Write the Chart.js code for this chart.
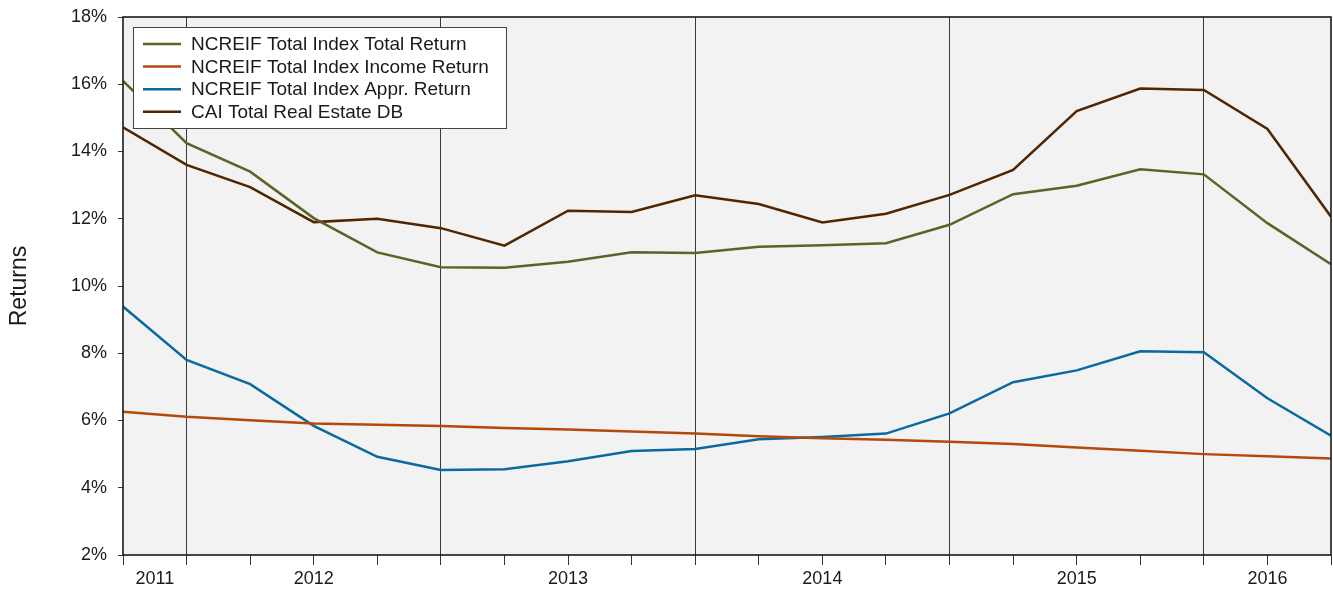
<!DOCTYPE html>
<html>
<head>
<meta charset="utf-8">
<script src="https://cdn.jsdelivr.net/npm/chart.js@4.4.1/dist/chart.umd.min.js"></script>
<style>
  html, body { margin: 0; padding: 0; background: #ffffff; }
  canvas { display: block; }
</style>
</head>
<body>
<canvas id="c" width="1333" height="589"></canvas>
<script>
// ---- data ----
const quarters = [
  '2011 Q1','2011 Q2','2011 Q3','2011 Q4',
  '2012 Q1','2012 Q2','2012 Q3','2012 Q4',
  '2013 Q1','2013 Q2','2013 Q3','2013 Q4',
  '2014 Q1','2014 Q2','2014 Q3','2014 Q4',
  '2015 Q1','2015 Q2','2015 Q3','2015 Q4'
];
const seriesNames = [
  'NCREIF Total Index Total Return',
  'NCREIF Total Index Income Return',
  'NCREIF Total Index Appr. Return',
  'CAI Total Real Estate DB'
];
const totalReturn  = [16.10, 14.25, 13.40, 12.02, 11.00, 10.56, 10.54, 10.72, 11.00, 10.98, 11.17, 11.21, 11.27, 11.82, 12.73, 12.98, 13.47, 13.32, 11.87, 10.65];
const incomeReturn = [6.26, 6.11, 6.01, 5.91, 5.87, 5.84, 5.78, 5.73, 5.67, 5.61, 5.53, 5.47, 5.43, 5.37, 5.30, 5.20, 5.10, 5.00, 4.94, 4.87];
const apprReturn   = [9.39, 7.80, 7.08, 5.84, 4.92, 4.53, 4.55, 4.79, 5.09, 5.15, 5.44, 5.51, 5.61, 6.21, 7.14, 7.49, 8.06, 8.03, 6.66, 5.55];
const caiTotal     = [14.72, 13.60, 12.94, 11.90, 12.00, 11.72, 11.20, 12.24, 12.20, 12.70, 12.44, 11.89, 12.15, 12.71, 13.45, 15.20, 15.87, 15.83, 14.67, 12.06];
const yearLabels   = ['2011', '2012', '2013', '2014', '2015', '2016'];
const yearLabelAt  = [0.5, 3, 7, 11, 15, 18];
const dividerAt    = [1, 5, 9, 13, 17];
const yTicks       = [2, 4, 6, 8, 10, 12, 14, 16, 18];

// ---- styling ----
const FONT = "'Liberation Sans', Arial, Helvetica, sans-serif";
const colors = ['#5d6326', '#b4490a', '#0b69a0', '#4f2600'];
const seriesValues = [totalReturn, incomeReturn, apprReturn, caiTotal];

const datasets = seriesValues.map((vals, s) => ({
  label: seriesNames[s],
  data: vals.map((v, i) => ({ x: i, y: v })),
  borderColor: colors[s],
  backgroundColor: colors[s],
  borderWidth: 2.5,
  pointRadius: 0,
  tension: 0,
  fill: false
}));

const xTickValues = quarters.map((q, i) => i).concat(yearLabelAt.filter(v => !Number.isInteger(v)));

const plotBg = {
  id: 'plotBg',
  beforeDraw(chart) {
    const { ctx, chartArea: a } = chart;
    ctx.save();
    ctx.fillStyle = '#f2f2f2';
    ctx.fillRect(a.left, a.top, a.right - a.left, a.bottom - a.top);
    ctx.restore();
  }
};

const frameAndLegend = {
  id: 'frameAndLegend',
  afterDatasetsDraw(chart) {
    const { ctx, chartArea: a } = chart;
    ctx.save();
    // frame
    ctx.strokeStyle = '#1a1a1a';
    ctx.lineWidth = 1.6;
    ctx.strokeRect(a.left, a.top, a.right - a.left, a.bottom - a.top);
    // legend
    const lx = a.left + 10, ly = a.top + 10, lw = 373, lh = 101;
    ctx.fillStyle = '#ffffff';
    ctx.fillRect(lx, ly, lw, lh);
    ctx.strokeStyle = '#444444';
    ctx.lineWidth = 1;
    ctx.strokeRect(lx + 0.5, ly + 0.5, lw, lh);
    ctx.font = '19px ' + FONT;
    ctx.textBaseline = 'middle';
    ctx.textAlign = 'left';
    chart.data.datasets.forEach((ds, i) => {
      const cy = ly + 17 + i * 22.6;
      ctx.strokeStyle = ds.borderColor;
      ctx.lineWidth = 2.5;
      ctx.beginPath();
      ctx.moveTo(lx + 10, cy);
      ctx.lineTo(lx + 48, cy);
      ctx.stroke();
      ctx.fillStyle = '#1a1a1a';
      ctx.fillText(ds.label, lx + 58, cy + 1);
    });
    ctx.restore();
  }
};

new Chart(document.getElementById('c'), {
  type: 'line',
  data: { datasets },
  options: {
    responsive: false,
    devicePixelRatio: 1,
    animation: false,
    layout: { padding: { top: 17, right: 2, left: 0, bottom: 0 } },
    plugins: { legend: { display: false }, tooltip: { enabled: false } },
    scales: {
      x: {
        type: 'linear',
        min: 0,
        max: quarters.length - 1,
        afterBuildTicks(scale) {
          scale.ticks = xTickValues.map(v => ({ value: v }));
        },
        afterFit(scale) { scale.height = 34; },
        border: { display: false },
        grid: {
          lineWidth: 1,
          color: (c) => (c.tick && dividerAt.includes(c.tick.value)) ? '#3a3a3a' : 'rgba(0,0,0,0)',
          tickColor: (c) => (c.tick && Number.isInteger(c.tick.value)) ? '#333333' : 'rgba(0,0,0,0)',
          tickLength: 10,
          drawTicks: true
        },
        ticks: {
          autoSkip: false,
          maxRotation: 0,
          minRotation: 0,
          padding: 3,
          color: '#1a1a1a',
          font: { family: FONT, size: 18 },
          callback: (v) => {
            const k = yearLabelAt.indexOf(v);
            return k >= 0 ? yearLabels[k] : '';
          }
        }
      },
      y: {
        min: yTicks[0],
        max: yTicks[yTicks.length - 1],
        afterBuildTicks(scale) {
          scale.ticks = yTicks.map(v => ({ value: v }));
        },
        afterFit(scale) { scale.width = 123; },
        border: { display: false },
        grid: {
          drawOnChartArea: false,
          drawTicks: true,
          tickLength: 10,
          tickColor: '#333333',
          tickBorderDash: [5, 5],
          tickBorderDashOffset: 5
        },
        ticks: {
          padding: 6,
          color: '#1a1a1a',
          font: { family: FONT, size: 18 },
          callback: (v) => v + '%'
        },
        title: {
          display: true,
          text: 'Returns',
          color: '#1a1a1a',
          font: { family: FONT, size: 23 },
          padding: { top: 6, bottom: 0 }
        }
      }
    }
  },
  plugins: [plotBg, frameAndLegend]
});
</script>
</body>
</html>
